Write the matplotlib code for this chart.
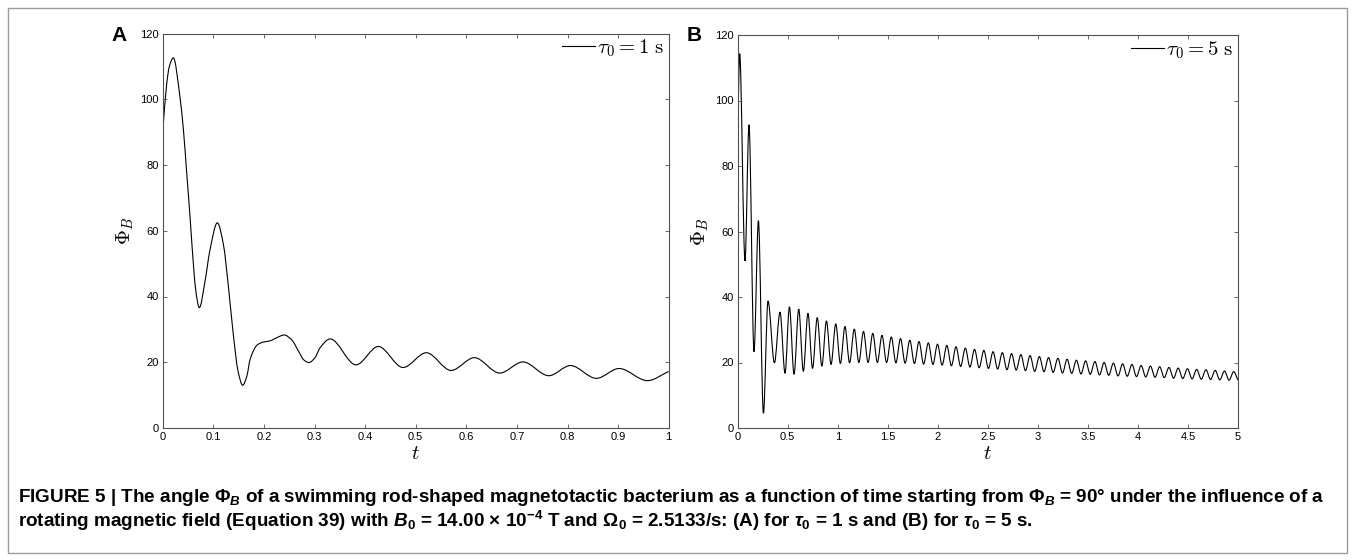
"""
Angle Phi_B of a rod-shaped magnetotactic bacterium vs time, two relaxation times.
"""

import numpy as np
import matplotlib
matplotlib.use("Agg")
import matplotlib.pyplot as plt
from matplotlib.path import Path
from matplotlib.patches import PathPatch, Rectangle
from matplotlib.lines import Line2D
from matplotlib.ticker import MultipleLocator, FormatStrFormatter

# --- Data ---
# Panel A, tau0 = 1 s
T_A = [0.0, 0.008, 0.013, 0.021, 0.034, 0.041, 0.047, 0.054, 0.0605, 0.066, 0.0724,
       0.0836, 0.093, 0.108, 0.120, 0.130, 0.1395, 0.149, 0.158, 0.166, 0.173,
       0.187, 0.198, 0.212, 0.226, 0.240, 0.255, 0.269, 0.279, 0.289, 0.301,
       0.311, 0.331, 0.382, 0.426, 0.475, 0.521, 0.570, 0.616, 0.666,
       0.712, 0.763, 0.806, 0.857, 0.902, 0.958, 1.0]
PHI_A = [90.0, 104.8, 109.9, 112.6, 100.8, 90.6, 78.5, 64.3, 50.1, 41.0, 36.6,
         44.6, 53.8, 62.4, 55.8, 42.8, 28.5, 17.2, 13.0, 15.6, 21.0,
         25.3, 26.1, 26.5, 27.5, 28.3, 26.8, 23.2, 20.7, 19.9, 21.4,
         24.4, 27.1, 19.2, 24.8, 18.4, 22.9, 17.5, 21.4, 16.7,
         20.1, 15.9, 19.0, 15.1, 18.1, 14.4, 17.2]

# Panel B, tau0 = 5 s: initial transient
T_B_START = [0.0, 0.020, 0.073, 0.113, 0.163, 0.207, 0.257, 0.303, 0.367, 0.423, 0.473]
PHI_B_START = [90.0, 114.3, 51.0, 92.6, 23.3, 63.3, 4.5, 38.8, 19.9, 35.4, 16.7]

# Panel B: peaks and troughs of the steady oscillation
T_B_PEAKS = [0.517, 0.610, 0.702, 0.795, 0.887, 0.980, 1.072, 1.165, 1.257, 1.350,
             1.442, 1.535, 1.627, 1.720, 1.812, 1.905, 1.997, 2.090, 2.182, 2.275,
             2.367, 2.460, 2.552, 2.645, 2.737, 2.830, 2.922, 3.015, 3.107, 3.200,
             3.292, 3.385, 3.477, 3.570, 3.662, 3.755, 3.847, 3.940, 4.032, 4.125,
             4.217, 4.310, 4.402, 4.495, 4.587, 4.680, 4.772, 4.865, 4.957]
PHI_B_PEAKS = [37.0, 36.3, 35.0, 33.7, 32.7, 31.8, 31.0, 30.2, 29.5, 28.9,
               28.3, 27.8, 27.3, 26.8, 26.4, 26.0, 25.6, 25.2, 24.8, 24.4,
               24.0, 23.7, 23.3, 23.0, 22.7, 22.4, 22.1, 21.8, 21.5, 21.3,
               21.0, 20.7, 20.5, 20.3, 20.0, 19.8, 19.6, 19.4, 19.1, 18.9,
               18.7, 18.5, 18.3, 18.1, 17.9, 17.8, 17.6, 17.4, 17.2]
T_B_TROUGHS = [0.563, 0.656, 0.748, 0.841, 0.933, 1.026, 1.118, 1.211, 1.303, 1.396,
               1.488, 1.581, 1.673, 1.766, 1.858, 1.951, 2.043, 2.136, 2.228, 2.321,
               2.413, 2.506, 2.598, 2.691, 2.783, 2.876, 2.968, 3.061, 3.153, 3.246,
               3.338, 3.431, 3.523, 3.616, 3.708, 3.801, 3.893, 3.986, 4.078, 4.171,
               4.263, 4.356, 4.448, 4.541, 4.633, 4.726, 4.818, 4.911, 5.0]
PHI_B_TROUGHS = [16.4, 17.3, 18.2, 18.9, 19.4, 19.7, 19.9, 20.0, 20.0, 20.0,
                 20.0, 19.9, 19.8, 19.7, 19.5, 19.4, 19.2, 19.0, 18.8, 18.6,
                 18.4, 18.2, 18.0, 17.8, 17.7, 17.5, 17.3, 17.2, 17.0, 16.8,
                 16.7, 16.5, 16.4, 16.2, 16.1, 15.9, 15.8, 15.7, 15.6, 15.5,
                 15.4, 15.2, 15.1, 15.0, 14.9, 14.8, 14.7, 14.6, 14.6]

LEGEND_A = r"$\tau_0 = 1\ \mathrm{s}$"
LEGEND_B = r"$\tau_0 = 5\ \mathrm{s}$"

CAPTION_1 = (r"FIGURE 5 | The angle $\Phi_B$ of a swimming rod-shaped magnetotactic bacterium "
             r"as a function of time starting from $\Phi_B$ = 90° under the influence of a")
CAPTION_2 = (r"rotating magnetic field (Equation 39) with $B_0$ = 14.00 × 10$^{-4}$ T and "
             r"$\Omega_0$ = 2.5133/s: (A) for $\tau_0$ = 1 s and (B) for $\tau_0$ = 5 s.")

AXIS_GREY = "#505050"


def smooth_path(x, y):
    """Shape-preserving cubic through the read points, drawn as a bezier path."""
    x = np.asarray(x, float)
    y = np.asarray(y, float)
    h = np.diff(x)
    d = np.diff(y) / h
    m = np.zeros_like(y)
    m[0], m[-1] = d[0], d[-1]
    for i in range(1, len(y) - 1):
        if d[i - 1] * d[i] > 0:
            w1 = 2 * h[i] + h[i - 1]
            w2 = h[i] + 2 * h[i - 1]
            m[i] = (w1 + w2) / (w1 / d[i - 1] + w2 / d[i])
    verts = [(x[0], y[0])]
    codes = [Path.MOVETO]
    for i in range(len(h)):
        verts += [(x[i] + h[i] / 3, y[i] + m[i] * h[i] / 3),
                  (x[i + 1] - h[i] / 3, y[i + 1] - m[i + 1] * h[i] / 3),
                  (x[i + 1], y[i + 1])]
        codes += [Path.CURVE4] * 3
    return Path(verts, codes)


def style_axes(ax, xmax, xstep):
    ax.set_xlim(0, xmax)
    ax.set_ylim(0, 120)
    ax.xaxis.set_major_locator(MultipleLocator(xstep))
    ax.yaxis.set_major_locator(MultipleLocator(20))
    ax.xaxis.set_major_formatter(FormatStrFormatter("%g"))
    ax.tick_params(direction="in", top=True, right=True, length=3, width=0.6,
                   color=AXIS_GREY, labelsize=8, pad=3)
    for sp in ax.spines.values():
        sp.set_color(AXIS_GREY)
        sp.set_linewidth(0.8)
    ax.set_xlabel(r"$t$", fontsize=15, labelpad=1)
    ax.set_ylabel(r"$\Phi_B$", fontsize=15, labelpad=3)


def draw_panel(ax, t, phi, xmax, xstep, label):
    ax.add_patch(PathPatch(smooth_path(t, phi), fill=False, edgecolor="black", lw=0.8))
    style_axes(ax, xmax, xstep)
    ax.legend([Line2D([], [], color="black", lw=0.8)], [label], loc="upper right",
              frameon=False, fontsize=15, handlelength=1.6, handletextpad=0.1,
              borderaxespad=0.15, borderpad=0.05)


def main():
    plt.rcParams["font.family"] = ["Liberation Sans", "DejaVu Sans"]
    plt.rcParams["mathtext.fontset"] = "cm"
    # bold sans maths used only by the caption (math_fontfamily="custom")
    plt.rcParams["mathtext.rm"] = "Liberation Sans:bold"
    plt.rcParams["mathtext.it"] = "Liberation Sans:italic:bold"
    plt.rcParams["mathtext.bf"] = "Liberation Sans:bold"

    W, H = 1354, 560
    fig = plt.figure(figsize=(W / 100, H / 100), dpi=100)

    ax_a = fig.add_axes([162.7 / W, 1 - 428 / H, 506 / W, 394.5 / H])
    ax_b = fig.add_axes([737.7 / W, 1 - 428 / H, 500.3 / W, 393 / H])

    draw_panel(ax_a, T_A, PHI_A, 1.0, 0.1, LEGEND_A)

    # combine the read transient with the peaks and troughs, ordered in time
    t_b = np.concatenate([T_B_START, T_B_PEAKS, T_B_TROUGHS])
    phi_b = np.concatenate([PHI_B_START, PHI_B_PEAKS, PHI_B_TROUGHS])
    order = np.argsort(t_b)
    draw_panel(ax_b, t_b[order], phi_b[order], 5.0, 0.5, LEGEND_B)

    fig.text(119.5 / W, 1 - 35.5 / H, "A", fontsize=15, fontweight="bold",
             ha="center", va="center")
    fig.text(694 / W, 1 - 35.5 / H, "B", fontsize=15, fontweight="bold",
             ha="center", va="center")

    for txt, y in [(CAPTION_1, 497), (CAPTION_2, 521)]:
        fig.text(18 / W, 1 - y / H, txt, fontsize=13.6, fontweight="bold",
                 ha="left", va="center", math_fontfamily="custom")

    # thin frame round the whole figure
    fig.patches.append(Rectangle((7.5 / W, 7.5 / H), 1 - 15 / W, 1 - 15 / H,
                                 transform=fig.transFigure, fill=False,
                                 edgecolor="#9a9a9a", lw=1.0))

    fig.savefig("out.png", dpi=100)


if __name__ == "__main__":
    main()
